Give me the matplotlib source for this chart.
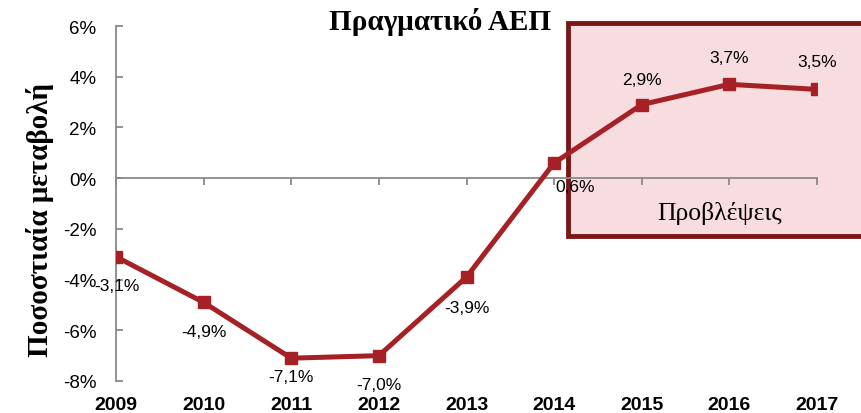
import matplotlib
matplotlib.use("Agg")
import matplotlib.pyplot as plt
from matplotlib.patches import Rectangle

years = ["2009", "2010", "2011", "2012", "2013", "2014", "2015", "2016", "2017"]
growth = [-3.1, -4.9, -7.1, -7.0, -3.9, 0.6, 2.9, 3.7, 3.5]
value_labels = ["-3,1%", "-4,9%", "-7,1%", "-7,0%", "-3,9%", "0,6%", "2,9%", "3,7%", "3,5%"]
yticks = [-8, -6, -4, -2, 0, 2, 4, 6]
ytick_labels = ["-8%", "-6%", "-4%", "-2%", "0%", "2%", "4%", "6%"]

# label offsets in points (style)
label_offsets = [(1, -21), (0, -21), (0, -13), (0, -21), (0, -22), (15, -17), (0, 18), (0, 19), (0, 20)]

red = "#A52126"
gray = "#898989"

fig = plt.figure(figsize=(8.61, 4.14), dpi=100)
ax = fig.add_axes([116 / 861, 1 - 382 / 414, (817 - 116) / 861, (382 - 27) / 414])
ax.set_zorder(2)

# forecast box (behind axes)
rect = Rectangle((568 / 861, 1 - 237 / 414), (866 - 568) / 861, (237 - 24) / 414,
                 transform=fig.transFigure, facecolor="#F7DCE0", edgecolor="#7A1717",
                 linewidth=3.5, zorder=0)
fig.patches.append(rect)
ax.patch.set_alpha(0)
fig.text(720 / 861, 1 - 214 / 414, "Προβλέψεις", family="Liberation Serif",
         fontsize=18.5, ha="center", va="center", zorder=1)

x = list(range(len(years)))
ax.plot(x, growth, color=red, linewidth=3.6, marker="s", markersize=8.5, zorder=3)

for xi, v, lab, off in zip(x, growth, value_labels, label_offsets):
    ax.annotate(lab, (xi, v), xytext=off, textcoords="offset points",
                ha="center", va="center", fontsize=12.5, family="Liberation Sans", zorder=4)

ax.set_xlim(0, len(years) - 1)
ax.set_ylim(-8, 6)
ax.set_yticks(yticks)
ax.set_yticklabels(ytick_labels, family="Liberation Sans", fontsize=13.5)
ax.tick_params(axis="y", direction="in", length=5, color=gray, width=1.3, pad=14)

for s in ["top", "right"]:
    ax.spines[s].set_visible(False)
ax.spines["left"].set_color(gray)
ax.spines["left"].set_linewidth(1.3)
ax.spines["bottom"].set_position(("data", 0))
ax.spines["bottom"].set_color(gray)
ax.spines["bottom"].set_linewidth(1.3)
ax.set_xticks(x)
ax.tick_params(axis="x", direction="out", length=5, color=gray, width=1.3, labelbottom=False)

sec = ax.secondary_xaxis("bottom")
sec.set_xticks(x)
sec.set_xticklabels(years, family="Liberation Sans", fontsize=14, fontweight="bold")
sec.tick_params(length=0, pad=11)
sec.spines["bottom"].set_visible(False)

fig.text(440 / 861, 1 - 22 / 414, "Πραγματικό ΑΕΠ", family="Liberation Serif",
         fontsize=21, fontweight="bold", ha="center", va="center")
fig.text(40 / 861, 1 - 220 / 414, "Ποσοστιαία μεταβολή", family="Liberation Serif",
         fontsize=21, fontweight="bold", ha="center", va="center", rotation=90)

fig.savefig("out.png", dpi=100)
